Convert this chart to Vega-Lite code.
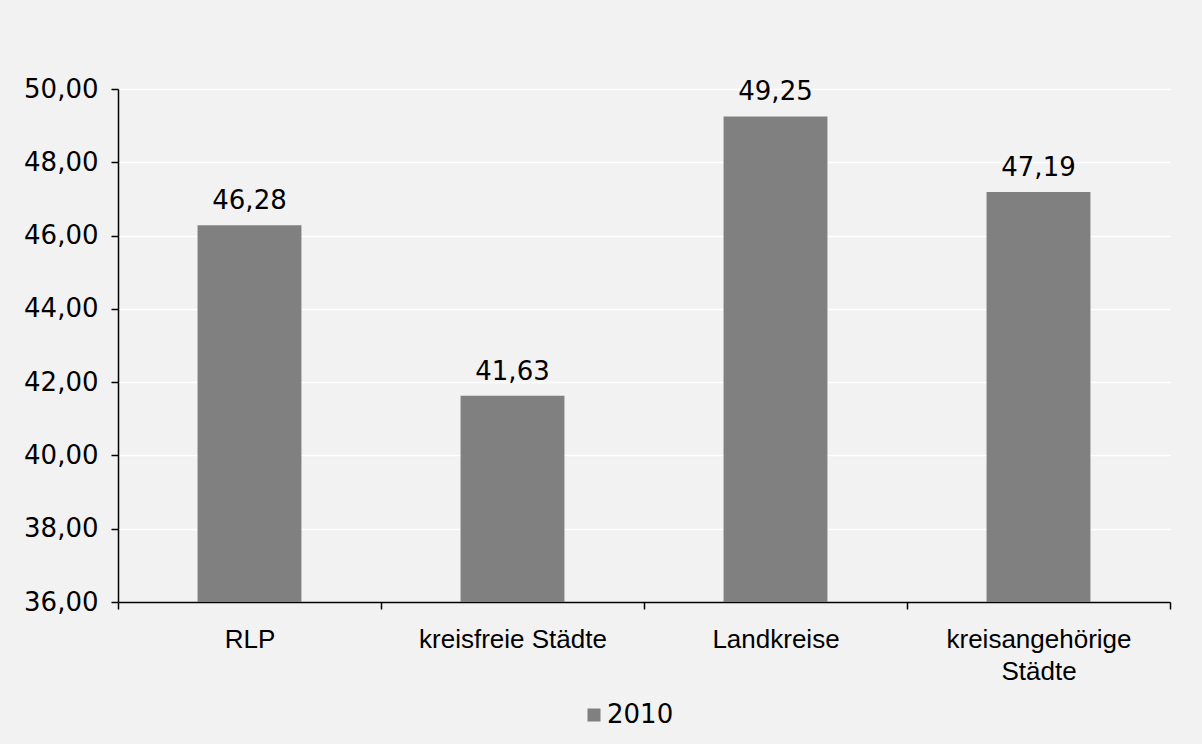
{
  "$schema": "https://vega.github.io/schema/vega-lite/v6.json",
  "width": 1052,
  "height": 513,
  "autosize": {"type": "none"},
  "padding": {"left": 118, "top": 89, "right": 32, "bottom": 142},
  "background": "#f2f2f2",
  "config": {
    "locale": {"number": {"decimal": ",", "thousands": ".", "grouping": [3], "currency": ["", " €"]}},
    "view": {"stroke": null, "fill": "#f2f2f2"},
    "font": "DejaVu Sans",
    "axis": {"labelFontSize": 26, "labelColor": "#000000", "domainColor": "#000000", "tickColor": "#000000", "domainWidth": 1.5, "tickWidth": 1.5, "tickSize": 7, "title": null, "labelLimit": 400}
  },
  "data": {"values": [
    {"kategorie": "RLP", "wert": 46.28, "jahr": "2010"},
    {"kategorie": "kreisfreie Städte", "wert": 41.63, "jahr": "2010"},
    {"kategorie": "Landkreise", "wert": 49.25, "jahr": "2010"},
    {"kategorie": "kreisangehörige Städte", "wert": 47.19, "jahr": "2010"}
  ]},
  "encoding": {
    "x": {"field": "kategorie", "type": "nominal", "sort": null,
      "scale": {"paddingInner": 0, "paddingOuter": 0},
      "axis": {"labelAngle": 0, "tickBand": "extent", "labelPadding": 17, "labelBaseline": "top", "labelLineHeight": 32, "labelFont": "Liberation Sans", "labelLimit": 400,
        "labelExpr": "datum.value == 'kreisangehörige Städte' ? ['kreisangehörige', 'Städte'] : datum.label", "grid": false}},
    "y": {"field": "wert", "type": "quantitative",
      "scale": {"domain": [36, 50], "nice": false, "zero": false},
      "axis": {"values": [36, 38, 40, 42, 44, 46, 48, 50], "format": ".2f", "grid": true, "gridColor": "#ffffff", "gridWidth": 1.5, "labelPadding": 13, "labelFont": "DejaVu Sans"}}
  },
  "layer": [
    {"mark": {"type": "bar", "clip": true, "width": {"band": 0.395}},
     "encoding": {"color": {"field": "jahr", "type": "nominal", "scale": {"range": ["#808080"]},
       "legend": {"title": null, "orient": "none", "legendX": 463, "legendY": 613, "symbolType": "square", "symbolSize": 169, "symbolStrokeWidth": 0, "labelFontSize": 26, "labelFont": "DejaVu Sans", "labelColor": "#000000", "labelOffset": 0, "symbolOpacity": 1}}}},
    {"mark": {"type": "text", "baseline": "alphabetic", "dy": -16, "fontSize": 26, "font": "DejaVu Sans", "color": "#000000"},
     "encoding": {"text": {"field": "wert", "type": "quantitative", "format": ".2f"}}}
  ]
}
